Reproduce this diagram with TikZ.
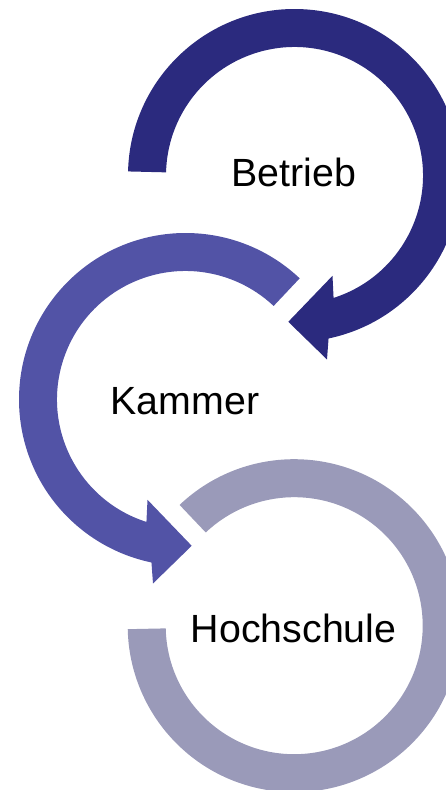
\documentclass[tikz,border=0pt]{standalone}
\usepackage{fontspec}
\setmainfont{Liberation Sans}
\definecolor{topc}{RGB}{43,42,126}
\definecolor{midc}{RGB}{82,83,166}
\definecolor{botc}{RGB}{154,154,185}
\tikzset{lbl/.style={anchor=base, inner sep=0pt, font=\fontsize{29.5pt}{34pt}\selectfont, text=black}}
\begin{document}
\begin{tikzpicture}[x=0.75pt,y=0.75pt]
\useasboundingbox (0,0) rectangle (446,790);
\clip (0,0) rectangle (446,790);
\coordinate (T) at (294.5,614.5);
\coordinate (M) at (185.5,390.5);
\coordinate (B) at (294.2,164.3);
% top arrow
\fill[topc] ([shift={(178.6:166.5)}]T) arc[start angle=178.6, end angle=-78.2, radius=124.875pt]
  -- ([shift={(32.5,-184)}]T) -- ([shift={(-6.2,-146.3)}]T) -- ([shift={(38,-100.3)}]T)
  -- ([shift={(-72.3:128.5)}]T) arc[start angle=-72.3, end angle=178.6, radius=96.375pt] -- cycle;
% middle arrow
\fill[midc] ([shift={(46.7:166.5)}]M) arc[start angle=46.7, end angle=258.2, radius=124.875pt]
  -- ([shift={(-32.5,-184)}]M) -- ([shift={(6.2,-146.3)}]M) -- ([shift={(-38,-100.3)}]M)
  -- ([shift={(252.3:128.5)}]M) arc[start angle=252.3, end angle=46.7, radius=96.375pt] -- cycle;
% bottom ring
\fill[botc] ([shift={(133.5:166.5)}]B) arc[start angle=133.5, end angle=-178.8, radius=124.875pt]
  -- ([shift={(-178.8:128.5)}]B) arc[start angle=-178.8, end angle=133.5, radius=96.375pt] -- cycle;
\node[lbl] (betrieb) at (294,603) {Betrieb};
\node[lbl] (kammer) at (185,375) {Kammer};
\node[lbl] (hochschule) at (293.7,147.3) {Hochschule};
\end{tikzpicture}
\end{document}
